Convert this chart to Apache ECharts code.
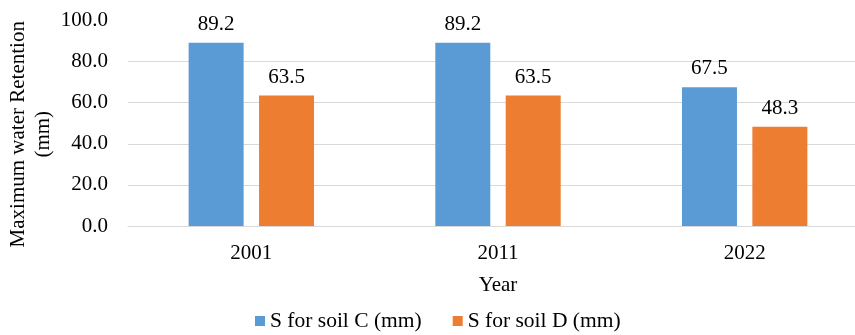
<!DOCTYPE html>
<html>
<head>
<meta charset="utf-8">
<script src="https://cdn.jsdelivr.net/npm/echarts@6/dist/echarts.min.js"></script>
<style>
html,body{margin:0;padding:0;background:#fff;}
#chart{width:855px;height:335px;}
</style>
</head>
<body>
<div id="chart"></div>
<script>
var years = ['2001', '2011', '2022'];
var soilC = [89.2, 89.2, 67.5];
var soilD = [63.5, 63.5, 48.3];
var seriesNames = ['S for soil C (mm)', 'S for soil D (mm)'];

var font = '"Liberation Serif", "Times New Roman", serif';
var fs = 21;
var chart = echarts.init(document.getElementById('chart'));

chart.setOption({
  animation: false,
  textStyle: {fontFamily: font, color: '#000'},
  grid: {left: 128, top: 20.5, width: 740, height: 205.5, containLabel: false, outerBoundsMode: 'none'},
  legend: {
    data: seriesNames,
    top: 310,
    left: 255,
    padding: 0,
    itemWidth: 10,
    itemHeight: 10,
    itemGap: 31,
    icon: 'rect',
    textStyle: {fontFamily: font, fontSize: 21.5, color: '#000'}
  },
  xAxis: {
    type: 'category',
    data: years,
    name: 'Year',
    nameLocation: 'middle',
    nameGap: 49,
    nameMoveOverlap: false,
    nameTextStyle: {fontFamily: font, fontSize: fs, color: '#000'},
    axisLine: {lineStyle: {color: '#d9d9d9', width: 1}},
    axisTick: {show: false},
    axisLabel: {fontFamily: font, fontSize: fs, color: '#000', margin: 17}
  },
  yAxis: {
    type: 'value',
    min: 0,
    max: 100,
    interval: 20,
    name: 'Maximum water Retention\n(mm)',
    nameLocation: 'middle',
    nameRotate: 90,
    nameGap: 72,
    nameMoveOverlap: false,
    nameTextStyle: {fontFamily: font, fontSize: fs, color: '#000', lineHeight: 25, padding: [0, 22, 0, 0]},
    axisLine: {show: false},
    axisTick: {show: false},
    splitLine: {lineStyle: {color: ['#d9d9d9', '#d9d9d9', '#d9d9d9', '#d9d9d9', '#d9d9d9', 'rgba(0,0,0,0)'], width: 1}},
    axisLabel: {fontFamily: font, fontSize: fs, color: '#000', margin: 20,
      formatter: function (v) { return v.toFixed(1); }}
  },
  series: [
    {
      name: seriesNames[0],
      type: 'bar',
      data: soilC,
      barWidth: 55,
      barGap: '28%',
      itemStyle: {color: '#5b9bd5'},
      label: {show: true, position: 'top', distance: 8, fontFamily: font, fontSize: fs, color: '#000',
        formatter: function (p) { return p.value.toFixed(1); }}
    },
    {
      name: seriesNames[1],
      type: 'bar',
      data: soilD,
      barWidth: 55,
      barGap: '28%',
      itemStyle: {color: '#ed7d31'},
      label: {show: true, position: 'top', distance: 8, fontFamily: font, fontSize: fs, color: '#000',
        formatter: function (p) { return p.value.toFixed(1); }}
    }
  ]
});
</script>
</body>
</html>
